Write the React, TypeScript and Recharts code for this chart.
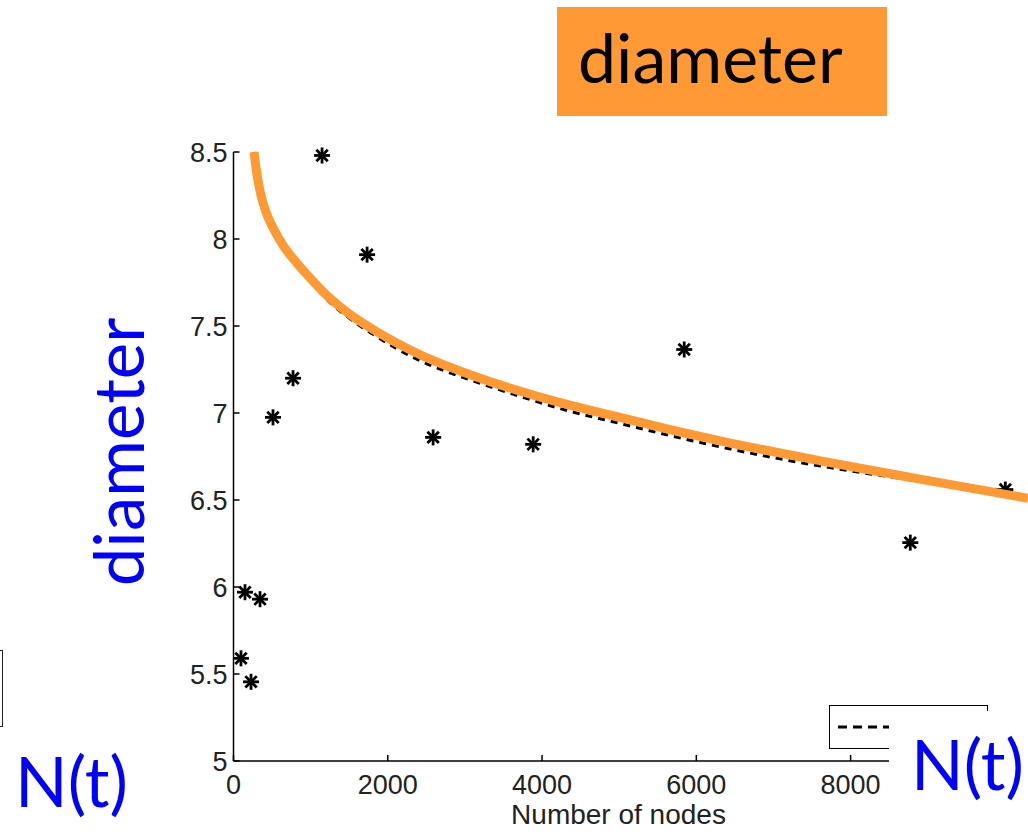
import React from "react";
import { ComposedChart, Line, Scatter, XAxis, YAxis } from "recharts";

// measured points (number of nodes vs. effective diameter)
const nodeCounts = [97, 149, 227, 344, 512, 772, 1148, 1732, 2588, 3885, 5843, 8774, 10006];
const diameters = [5.59, 5.97, 5.455, 5.93, 6.975, 7.2, 8.48, 7.91, 6.86, 6.82, 7.365, 6.255, 6.56];

// orange trend curve
const fitX = [266, 305, 357, 421, 512, 655, 824, 1005, 1212, 1500, 1810, 2420, 3070, 3720, 4360, 5010, 5660, 6310, 7610, 8900, 10300];
const fitY = [8.5, 8.37, 8.25, 8.155, 8.065, 7.955, 7.86, 7.77, 7.675, 7.57, 7.48, 7.335, 7.22, 7.125, 7.045, 6.975, 6.905, 6.84, 6.725, 6.62, 6.51];

// dashed model curve underneath
const dashX = [266, 305, 357, 421, 512, 655, 824, 1005, 1212, 1500, 1810, 2420, 3070, 3720, 4360, 5010, 5660, 6310, 7610, 8900, 10000];
const dashY = [8.5, 8.37, 8.248, 8.15, 8.057, 7.945, 7.846, 7.752, 7.652, 7.545, 7.452, 7.3, 7.19, 7.095, 7.01, 6.94, 6.87, 6.805, 6.695, 6.61, 6.555];

const xTicks = [0, 2000, 4000, 6000, 8000];
const yTicks = [5, 5.5, 6, 6.5, 7, 7.5, 8, 8.5];

const points = nodeCounts.map((x, i) => ({ x, y: diameters[i] }));
const fitData = fitX.map((x, i) => ({ x, y: fitY[i] }));
const dashData = dashX.map((x, i) => ({ x, y: dashY[i] }));

const ORANGE = "#FF9933";
const BLUE = "#0000FF";

function Star(props: any) {
  const { cx, cy } = props;
  if (cx == null || cy == null) return null;
  const r = 8;
  const d = 5.7;
  return (
    <g stroke="#000" strokeWidth={2.8}>
      <line x1={cx - r} y1={cy} x2={cx + r} y2={cy} />
      <line x1={cx} y1={cy - r} x2={cx} y2={cy + r} />
      <line x1={cx - d} y1={cy - d} x2={cx + d} y2={cy + d} />
      <line x1={cx - d} y1={cy + d} x2={cx + d} y2={cy - d} />
    </g>
  );
}

const tickFont = { fontFamily: "Liberation Sans, Arial, sans-serif", fontSize: 27, fill: "#222" };

export default function App() {
  return (
    <div style={{ position: "absolute", left: 0, top: 0, width: 1028, height: 839, background: "#fff", overflow: "hidden" }}>
      <ComposedChart
        width={1028}
        height={839}
        margin={{ top: 152, right: 0, bottom: 18, left: 153.5 }}
      >
        <XAxis
          dataKey="x"
          type="number"
          domain={[0, 10300]}
          ticks={xTicks}
          height={60}
          tickSize={-6}
          tickMargin={20}
          tick={tickFont}
          axisLine={{ stroke: "#000", strokeWidth: 1.5 }}
          tickLine={{ stroke: "#000", strokeWidth: 1.5 }}
        />
        <YAxis
          dataKey="y"
          type="number"
          domain={[5, 8.5]}
          ticks={yTicks}
          width={80}
          tickSize={-6}
          tickMargin={12}
          tick={tickFont}
          axisLine={{ stroke: "#000", strokeWidth: 1.5 }}
          tickLine={{ stroke: "#000", strokeWidth: 1.5 }}
        />
        <Scatter data={points} shape={<Star />} isAnimationActive={false} zIndex={350} />
        <Line
          data={dashData}
          dataKey="y"
          type="monotone"
          stroke="#000"
          strokeWidth={3}
          strokeDasharray="7 6"
          dot={false}
          activeDot={false}
          isAnimationActive={false}
        />
        <Line
          data={fitData}
          dataKey="y"
          type="monotone"
          stroke={ORANGE}
          strokeWidth={9}
          strokeLinecap="butt"
          dot={false}
          activeDot={false}
          isAnimationActive={false}
        />
      </ComposedChart>

      {/* x axis title */}
      <div style={{ position: "absolute", left: 0, width: 1237, top: 800, textAlign: "center", fontFamily: "Liberation Sans, Arial, sans-serif", fontSize: 28, color: "#222", lineHeight: "30px" }}>
        Number of nodes
      </div>

      {/* legend box */}
      <div style={{ position: "absolute", left: 829, top: 705, width: 157, height: 42, border: "1.5px solid #000", background: "#fff" }}>
        <svg width={60} height={42} style={{ position: "absolute", left: 6, top: 0 }}>
          <line x1={2} y1={21} x2={58} y2={21} stroke="#000" strokeWidth={3} strokeDasharray="9 6" />
        </svg>
      </div>

      {/* white patch with N(t) on the right */}
      <div style={{ position: "absolute", left: 889, top: 711, width: 139, height: 128, background: "#fff" }}>
        <div style={{ position: "absolute", left: 22, top: 13, fontFamily: "Lato, sans-serif", fontSize: 69, color: BLUE, lineHeight: "80px" }}>
          N(t)
        </div>
      </div>

      {/* N(t) at bottom left */}
      <div style={{ position: "absolute", left: 15, top: 741, fontFamily: "Lato, sans-serif", fontSize: 69, color: BLUE, lineHeight: "80px" }}>
        N(t)
      </div>

      {/* partial box at left edge */}
      <div style={{ position: "absolute", left: -10, top: 650, width: 11, height: 75, border: "1.5px solid #222" }} />

      {/* vertical diameter label */}
      <div
        style={{
          position: "absolute",
          left: 118,
          top: 452,
          transform: "translate(-50%, -50%) rotate(-90deg)",
          fontFamily: "Lato, sans-serif",
          fontSize: 69,
          color: BLUE,
          whiteSpace: "nowrap",
          lineHeight: "70px",
        }}
      >
        diameter
      </div>

      {/* title box */}
      <div
        style={{
          position: "absolute",
          left: 557,
          top: 7,
          width: 330,
          height: 109,
          background: ORANGE,
          fontFamily: "Lato, sans-serif",
          fontSize: 68,
          color: "#000",
          lineHeight: "100px",
          paddingLeft: 21,
          boxSizing: "border-box",
        }}
      >
        diameter
      </div>
    </div>
  );
}
